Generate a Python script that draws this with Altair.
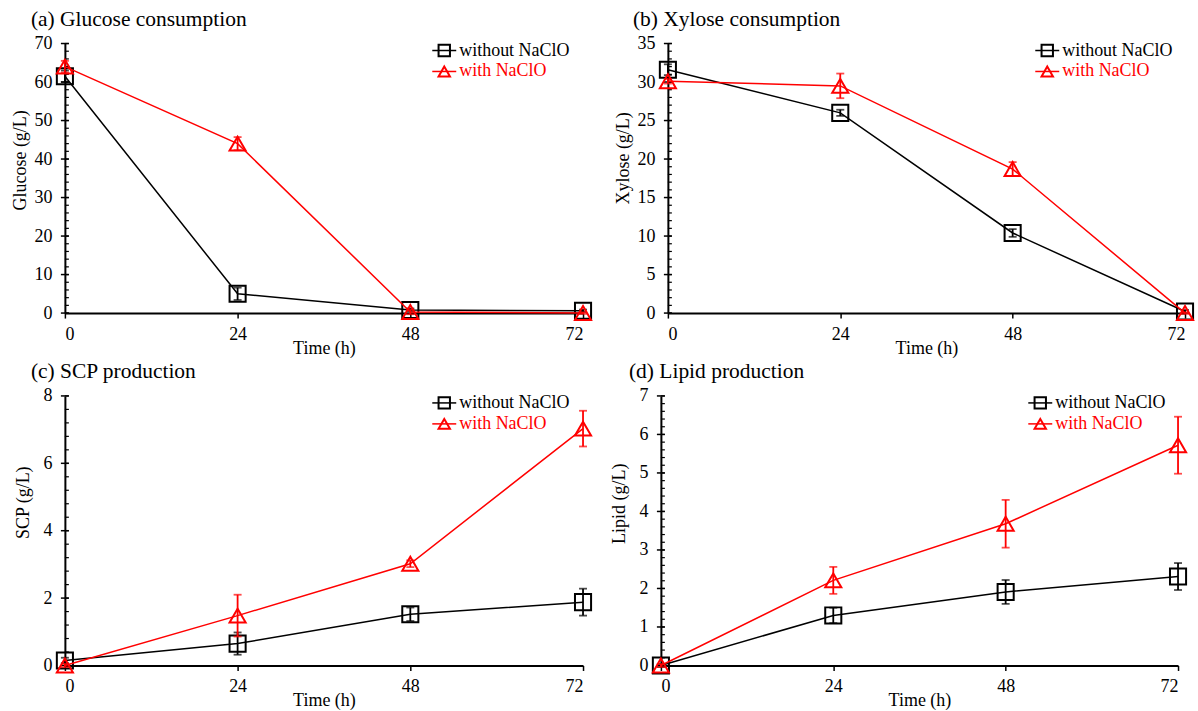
import altair as alt
import pandas as pd
import numpy as np

# ---------------- data ----------------
time_h = [0, 24, 48, 72]
series_names = ["without NaClO", "with NaClO"]

glucose_without = [61.5, 5.0, 0.8, 0.6]
glucose_without_err = [1.5, 1.6, 0.4, 0.3]
glucose_with = [64.0, 44.0, 0.3, 0.0]
glucose_with_err = [1.5, 1.7, 0.6, 0.2]

xylose_without = [31.6, 26.0, 10.4, 0.2]
xylose_without_err = [0.7, 0.4, 0.5, 0.2]
xylose_with = [30.1, 29.5, 18.7, 0.0]
xylose_with_err = [0.3, 1.6, 0.9, 0.1]

scp_without = [0.15, 0.65, 1.52, 1.88]
scp_without_err = [0.08, 0.33, 0.20, 0.40]
scp_with = [0.0, 1.48, 3.02, 7.03]
scp_with_err = [0.05, 0.62, 0.10, 0.53]

lipid_without = [0.0, 1.30, 1.91, 2.31]
lipid_without_err = [0.04, 0.20, 0.31, 0.35]
lipid_with = [0.0, 2.21, 3.68, 5.72]
lipid_with_err = [0.04, 0.35, 0.62, 0.74]

FONT = "Liberation Serif"
COLORS = ["#000000", "#ff0000"]
SHAPES = ["square", "triangle-up"]


def long_df(vals_a, err_a, vals_b, err_b):
    rows = []
    for name, vals, errs in [(series_names[0], vals_a, err_a), (series_names[1], vals_b, err_b)]:
        for t, v, e in zip(time_h, vals, errs):
            rows.append(dict(time=t, value=v, lo=v - e, hi=v + e, series=name))
    return pd.DataFrame(rows)


def panel(df, title, ytitle, ymax, major, minor, title_dx, ytitle_dx, ytitle_y, W, H, anchor=False):
    xs = alt.Scale(domain=[0, 72], nice=False, zero=False)
    ys = alt.Scale(domain=[0, ymax], nice=False, zero=True)
    x_axis = alt.Axis(values=time_h, title="Time (h)", grid=False, domainColor="black", domainWidth=2,
                      tickColor="black", tickWidth=1.5, tickSize=5, labelFont=FONT, labelFontSize=18,
                      labelColor="black", labelPadding=7, titleFont=FONT, titleFontSize=18,
                      titleFontWeight="normal", titleColor="black", titleY=35, titleBaseline="middle")
    majors = [round(v, 6) for v in np.arange(0, ymax + 1e-9, major)]
    minors = [round(v, 6) for v in np.arange(0, ymax + 1e-9, minor)]
    y_axis = alt.Axis(values=majors, ticks=False, grid=False, domainColor="black", domainWidth=2,
                      labelFont=FONT, labelFontSize=18, labelColor="black", labelPadding=13, title=None)
    X = alt.X("time:Q", scale=xs, axis=x_axis)

    layers = []
    layers.append(alt.Chart(pd.DataFrame({"v": minors})).mark_rule(color="black", strokeWidth=1.2).encode(
        x=alt.value(0), x2=alt.value(4), y=alt.Y("v:Q", scale=ys, axis=y_axis)))
    layers.append(alt.Chart(pd.DataFrame({"v": majors})).mark_rule(color="black", strokeWidth=1.5).encode(
        x=alt.value(-4), x2=alt.value(4), y=alt.Y("v:Q", scale=ys, axis=y_axis)))

    for i, name in enumerate(series_names):
        sdf = df[df["series"] == name]
        base = alt.Chart(sdf)
        layers.append(base.mark_rule(color=COLORS[i], strokeWidth=1.8).encode(
            x=X, y=alt.Y("lo:Q", scale=ys, axis=y_axis), y2="hi:Q"))
        layers.append(base.mark_tick(color=COLORS[i], orient="horizontal", size=8, thickness=1.8).encode(
            x=X, y=alt.Y("lo:Q", scale=ys, axis=y_axis)))
        layers.append(base.mark_tick(color=COLORS[i], orient="horizontal", size=8, thickness=1.8).encode(
            x=X, y=alt.Y("hi:Q", scale=ys, axis=y_axis)))
        layers.append(base.mark_line(color=COLORS[i], strokeWidth=1.5).encode(
            x=X, y=alt.Y("value:Q", scale=ys, axis=y_axis)))
        layers.append(base.mark_point(shape=SHAPES[i], filled=False, color=COLORS[i], size=260,
                                      strokeWidth=2, opacity=1).encode(
            x=X, y=alt.Y("value:Q", scale=ys, axis=y_axis)))

        # legend entry
        ldf = pd.DataFrame({"series": [name]})
        ly = 7 + 21 * i
        lb = alt.Chart(ldf)
        layers.append(lb.mark_rule(color=COLORS[i], strokeWidth=1.5).encode(
            x=alt.value(368), x2=alt.value(392), y=alt.value(ly)))
        layers.append(lb.mark_point(shape=SHAPES[i], filled=False, color=COLORS[i], size=130,
                                    strokeWidth=2, opacity=1).encode(x=alt.value(380), y=alt.value(ly)))
        layers.append(lb.mark_text(align="left", baseline="middle", font=FONT, fontSize=18,
                                   color=COLORS[i]).encode(x=alt.value(395), y=alt.value(ly), text="series:N"))

    tdf = pd.DataFrame({"t": [title], "yt": [ytitle]})
    layers.append(alt.Chart(tdf).mark_text(align="left", baseline="alphabetic", font=FONT, fontSize=21.5,
                                           color="black").encode(x=alt.value(title_dx), y=alt.value(-18), text="t:N"))
    layers.append(alt.Chart(tdf).mark_text(align="center", baseline="middle", font=FONT, fontSize=18, angle=270,
                                           color="black").encode(x=alt.value(ytitle_dx), y=alt.value(ytitle_y), text="yt:N"))
    if anchor:
        layers.append(alt.Chart(tdf).mark_point(size=1, filled=True, opacity=0).encode(
            x=alt.value(-64), y=alt.value(-42)))

    return alt.layer(*layers).properties(width=W, height=H)


pa = panel(long_df(glucose_without, glucose_without_err, glucose_with, glucose_with_err),
           "(a) Glucose consumption", "Glucose (g/L)", 70, 10, 2, -34, -44, 117, 519, 270, anchor=True)
pb = panel(long_df(xylose_without, xylose_without_err, xylose_with, xylose_with_err),
           "(b) Xylose consumption", "Xylose (g/L)", 35, 5, 1, -35, -44, 115, 518, 270)
pc = panel(long_df(scp_without, scp_without_err, scp_with, scp_with_err),
           "(c) SCP production", "SCP (g/L)", 8, 2, 0.4, -34, -41, 107, 519, 270)
pd_ = panel(long_df(lipid_without, lipid_without_err, lipid_with, lipid_with_err),
            "(d) Lipid production", "Lipid (g/L)", 7, 1, 0.2, -32, -41, 108, 518, 270)

top = alt.hconcat(pa, pb, spacing=85, bounds="flush")
bottom = alt.hconcat(pc, pd_, spacing=78, bounds="flush")
# with flush bounds the nested row counts as zero height, so the spacing spans the row height (270) + gap (83)
chart = alt.vconcat(top, bottom, spacing=353, bounds="flush").properties(padding=0).configure_view(stroke=None)

chart.save("out.html", embed_options={"renderer": "svg", "actions": False})
